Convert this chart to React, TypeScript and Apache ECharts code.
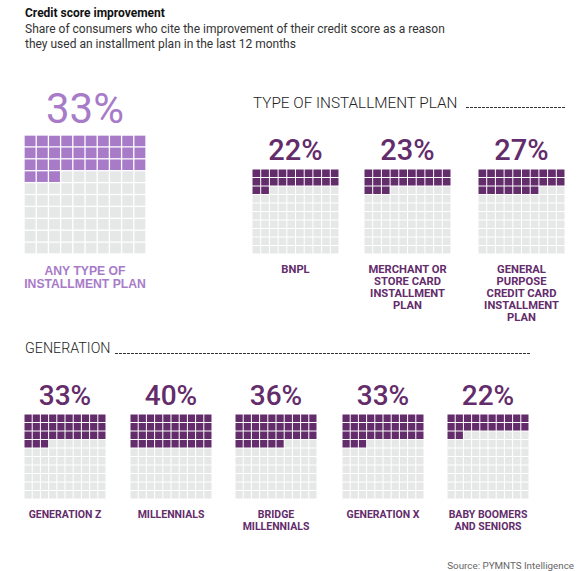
import React, { useEffect, useRef } from "react";
import * as echarts from "echarts";

// ---------- data ----------
const titleText = "Credit score improvement";
const subtitleLines = [
  "Share of consumers who cite the improvement of their credit score as a reason",
  "they used an installment plan in the last 12 months",
];
const overallCategory = "ANY TYPE OF\nINSTALLMENT PLAN";
const overallValue = 33;

const planHeader = "TYPE OF INSTALLMENT PLAN";
const planCategories = [
  "BNPL",
  "MERCHANT OR\nSTORE CARD\nINSTALLMENT\nPLAN",
  "GENERAL\nPURPOSE\nCREDIT CARD\nINSTALLMENT\nPLAN",
];
const planValues = [22, 23, 27];

const generationHeader = "GENERATION";
const generationCategories = [
  "GENERATION Z",
  "MILLENNIALS",
  "BRIDGE\nMILLENNIALS",
  "GENERATION X",
  "BABY BOOMERS\nAND SENIORS",
];
const generationValues = [33, 40, 36, 33, 22];

const sourceText = "Source: PYMNTS Intelligence";
const gridIndexCategories = ["0", "1", "2", "3", "4", "5", "6", "7", "8", "9"];

// ---------- styles / layout ----------
const LIGHT = "#a87bc8";
const DARK = "#632c6b";
const EMPTY = "#e6e7e7";
const FONT = "Roboto, 'Open Sans', sans-serif";

type Panel = {
  value: number;
  label: string;
  left: number;
  top: number;
  width: number;
  height: number;
  color: string;
  gap: number;
  pctFont: string;
  pctY: number;
  labelTop: number;
  labelFont: string;
  labelLine: number;
};

function buildPanels(): Panel[] {
  const panels: Panel[] = [];
  panels.push({
    value: overallValue,
    label: overallCategory,
    left: 24,
    top: 135,
    width: 122,
    height: 119,
    color: LIGHT,
    gap: 1.3,
    pctFont: `normal 42px ${FONT}`,
    pctY: 108,
    labelTop: 263.8,
    labelFont: `bold 12.2px 'Liberation Sans', Arial, sans-serif`,
    labelLine: 13.6,
  });
  const planLefts = [252, 364, 478];
  planValues.forEach((v, i) =>
    panels.push({
      value: v,
      label: planCategories[i],
      left: planLefts[i],
      top: 169,
      width: 87,
      height: 85,
      color: DARK,
      gap: 1,
      pctFont: `500 29px ${FONT}`,
      pctY: 150,
      labelTop: 263,
      labelFont: `bold 11.2px ${FONT}`,
      labelLine: 12,
    })
  );
  const genLefts = [24, 130, 235, 342, 447];
  generationValues.forEach((v, i) =>
    panels.push({
      value: v,
      label: generationCategories[i],
      left: genLefts[i],
      top: 414,
      width: 82,
      height: 85,
      color: DARK,
      gap: 1,
      pctFont: `500 28px ${FONT}`,
      pctY: 395,
      labelTop: 508,
      labelFont: `bold 10.5px ${FONT}`,
      labelLine: 12,
    })
  );
  return panels;
}

export default function App() {
  const ref = useRef<HTMLDivElement>(null);

  useEffect(() => {
    document.body.style.margin = "0";
    if (!ref.current) return;
    const chart = echarts.init(ref.current, undefined, { renderer: "svg" });
    const panels = buildPanels();

    const grids = panels.map((p) => ({
      left: p.left,
      top: p.top,
      width: p.width,
      height: p.height,
      containLabel: false,
    }));
    const xAxes = panels.map((_, i) => ({
      type: "category",
      gridIndex: i,
      data: gridIndexCategories,
      show: false,
    }));
    const yAxes = panels.map((_, i) => ({
      type: "category",
      gridIndex: i,
      data: gridIndexCategories,
      inverse: true,
      show: false,
    }));
    const series = panels.map((p, i) => {
      const data: number[][] = [];
      for (let k = 0; k < 100; k++) {
        data.push([k % 10, Math.floor(k / 10), k < p.value ? 1 : 0]);
      }
      return {
        type: "custom",
        xAxisIndex: i,
        yAxisIndex: i,
        silent: true,
        data,
        renderItem: (params: any, api: any) => {
          const c = api.coord([api.value(0), api.value(1)]);
          const s = api.size([1, 1]);
          const g = p.gap;
          return {
            type: "rect",
            shape: {
              x: c[0] - s[0] / 2 + g / 2,
              y: c[1] - s[1] / 2 + g / 2,
              width: s[0] - g,
              height: s[1] - g,
            },
            style: { fill: api.value(2) ? p.color : EMPTY },
          };
        },
      };
    });

    const graphics: any[] = [];
    const txt = (
      text: string,
      x: number,
      y: number,
      font: string,
      fill: string,
      align: string,
      valign: string,
      lineHeight?: number
    ) => ({
      type: "text",
      x,
      y,
      silent: true,
      style: {
        text,
        font,
        fill,
        align,
        textAlign: align,
        verticalAlign: valign,
        textVerticalAlign: valign,
        lineHeight,
      },
    });

    graphics.push(txt(titleText, 25, 13, `bold 12px ${FONT}`, "#111", "left", "middle"));
    subtitleLines.forEach((l, i) =>
      graphics.push(txt(l, 25, 29 + i * 15, `12px ${FONT}`, "#333", "left", "middle"))
    );

    panels.forEach((p) => {
      const cx = p.left + p.width / 2;
      graphics.push(txt(`${p.value}%`, cx, p.pctY, p.pctFont, p.color, "center", "middle"));
      graphics.push(txt(p.label, cx, p.labelTop, p.labelFont, p.color, "center", "top", p.labelLine));
    });

    graphics.push(txt(planHeader, 253, 102.5, `300 15.3px ${FONT}`, "#222", "left", "middle"));
    graphics.push({
      type: "line",
      silent: true,
      shape: { x1: 466, y1: 107.5, x2: 565, y2: 107.5 },
      style: { stroke: "#333", lineWidth: 1, lineDash: [3, 1] },
    });
    graphics.push(txt(generationHeader, 25, 348, `300 14.3px ${FONT}`, "#222", "left", "middle"));
    graphics.push({
      type: "line",
      silent: true,
      shape: { x1: 115, y1: 353.5, x2: 530, y2: 353.5 },
      style: { stroke: "#333", lineWidth: 1, lineDash: [3, 1] },
    });
    graphics.push(txt(sourceText, 574, 565, `9.8px ${FONT}`, "#666", "right", "middle"));

    chart.setOption({
      animation: false,
      backgroundColor: "#ffffff",
      grid: grids,
      xAxis: xAxes,
      yAxis: yAxes,
      series,
      graphic: graphics,
    } as any);

    return () => chart.dispose();
  }, []);

  return (
    <div
      ref={ref}
      style={{ position: "absolute", left: 0, top: 0, width: 586, height: 571 }}
    />
  );
}
